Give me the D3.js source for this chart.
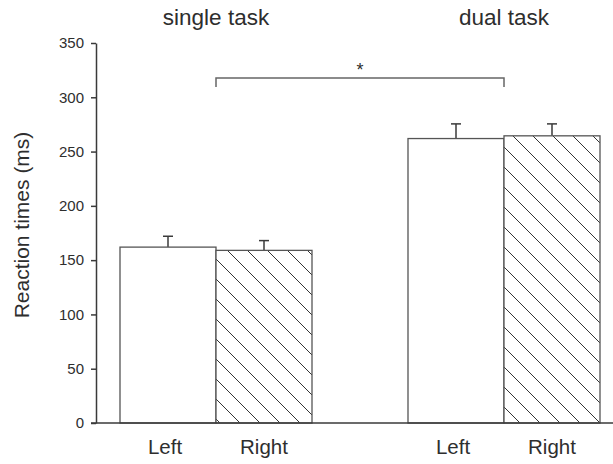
<!DOCTYPE html>
<html>
<head>
<meta charset="utf-8">
<script src="https://cdn.jsdelivr.net/npm/d3@7"></script>
<style>
  body { margin: 0; background: #fff; }
  svg { display: block; font-family: "Liberation Sans", Arial, sans-serif; }
</style>
</head>
<body>
<div id="chart"></div>
<script>
// data
const groups = ["single task", "dual task"];
const sides = ["Left", "Right"];
const means = [
  [162, 159],   // single task: Left, Right
  [262, 264.5]  // dual task
];
const errors = [
  [10, 9],
  [13.5, 11]
];
const yTicks = [0, 50, 100, 150, 200, 250, 300, 350];
const sigLabel = "*";
const yTitle = "Reaction times (ms)";

const W = 613, H = 464;
const svg = d3.select("#chart").append("svg").attr("width", W).attr("height", H);

const TEXT = "#2e2e2e";
const LINE = "#3a3a3a";

// scales
const x0 = d3.scaleBand().domain(groups).range([120, 600]).paddingInner(1 / 3).paddingOuter(0);
const x1 = d3.scaleBand().domain(sides).range([0, x0.bandwidth()]).padding(0);
const y = d3.scaleLinear().domain([0, 350]).range([423, 43]);

// hatch pattern
const defs = svg.append("defs");
const pat = defs.append("pattern")
  .attr("id", "hatch")
  .attr("patternUnits", "userSpaceOnUse")
  .attr("width", 20).attr("height", 20)
  .attr("x", 0).attr("y", 3);
pat.append("rect").attr("width", 20).attr("height", 20).attr("fill", "#fff");
pat.append("path")
  .attr("d", "M-5,-5 L25,25 M-5,15 L5,25 M15,-5 L25,5")
  .attr("stroke", "#333").attr("stroke-width", 1);

// y axis
const yAxis = svg.append("g")
  .attr("transform", "translate(96,0)")
  .call(d3.axisLeft(y).tickValues(yTicks).tickSize(5).tickPadding(7).tickSizeOuter(0));
yAxis.select(".domain").attr("stroke", LINE).attr("stroke-width", 1.5);
yAxis.selectAll(".tick line").attr("stroke", LINE).attr("stroke-width", 1.5);
yAxis.selectAll(".tick text")
  .attr("fill", TEXT)
  .attr("font-size", 15)
  .attr("font-family", "Liberation Sans, Arial, sans-serif");

// bars
const rows = [];
groups.forEach((g, gi) => sides.forEach((s, si) => {
  rows.push({ g, s, gi, si, v: means[gi][si], e: errors[gi][si] });
}));
const cx = d => x0(d.g) + x1(d.s) + x1.bandwidth() / 2;

const bars = svg.append("g");
bars.selectAll("line.err")
  .data(rows).enter().append("line")
  .attr("x1", cx).attr("x2", cx)
  .attr("y1", d => y(d.v))
  .attr("y2", d => y(d.v + d.e))
  .attr("stroke", LINE).attr("stroke-width", 1.5);
bars.selectAll("line.cap")
  .data(rows).enter().append("line")
  .attr("x1", d => cx(d) - 5)
  .attr("x2", d => cx(d) + 5)
  .attr("y1", d => y(d.v + d.e))
  .attr("y2", d => y(d.v + d.e))
  .attr("stroke", LINE).attr("stroke-width", 1.5);
bars.selectAll("rect")
  .data(rows).enter().append("rect")
  .attr("x", d => x0(d.g) + x1(d.s))
  .attr("y", d => y(d.v))
  .attr("width", x1.bandwidth())
  .attr("height", d => y(0) - y(d.v))
  .attr("fill", d => d.si === 0 ? "#fff" : "url(#hatch)")
  .attr("stroke", "#555").attr("stroke-width", 1.3);

// baseline across the plot
svg.append("line")
  .attr("x1", 91).attr("x2", W)
  .attr("y1", y(0)).attr("y2", y(0))
  .attr("stroke", LINE).attr("stroke-width", 1.5);

// bar labels
svg.append("g").selectAll("text")
  .data(rows).enter().append("text")
  .attr("x", d => cx(d) - (d.si === 0 ? 3 : 0))
  .attr("y", 454)
  .attr("text-anchor", "middle")
  .attr("font-size", 20.5)
  .attr("fill", TEXT)
  .text(d => d.s);

// group titles
svg.append("g").selectAll("text")
  .data(groups).enter().append("text")
  .attr("x", d => x0(d) + x0.bandwidth() / 2)
  .attr("y", 25)
  .attr("text-anchor", "middle")
  .attr("font-size", 22.5)
  .attr("fill", TEXT)
  .text(d => d);

// y title
svg.append("text")
  .attr("transform", "translate(29,225) rotate(-90)")
  .attr("text-anchor", "middle")
  .attr("font-size", 21)
  .attr("fill", TEXT)
  .text(yTitle);

// significance bracket between the group centres
const bx1 = x0(groups[0]) + x0.bandwidth() / 2;
const bx2 = x0(groups[1]) + x0.bandwidth() / 2;
const by = 78;
svg.append("path")
  .attr("d", `M${bx1},${by + 9} V${by} H${bx2} V${by + 9}`)
  .attr("fill", "none").attr("stroke", "#666").attr("stroke-width", 1.5);
svg.append("text")
  .attr("x", (bx1 + bx2) / 2)
  .attr("y", 76)
  .attr("text-anchor", "middle")
  .attr("font-size", 18)
  .attr("fill", TEXT)
  .text(sigLabel);
</script>
</body>
</html>
